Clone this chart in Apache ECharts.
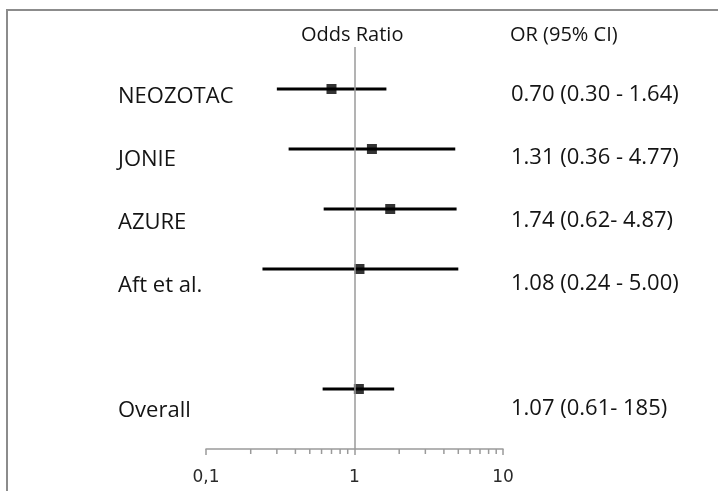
<!DOCTYPE html>
<html>
<head>
<meta charset="utf-8">
<script src="https://cdn.jsdelivr.net/npm/echarts@6/dist/echarts.min.js"></script>
<style>
html, body { margin: 0; padding: 0; background: #fff; }
#chart { width: 718px; height: 491px; }
</style>
</head>
<body>
<div id="chart"></div>
<script>
// forest plot data
const studies = ['NEOZOTAC', 'JONIE', 'AZURE', 'Aft et al.', 'Overall'];
const rows = [1, 2, 3, 4, 6];
const oddsRatio = [0.70, 1.31, 1.74, 1.08, 1.07];
const ciLow = [0.30, 0.36, 0.62, 0.24, 0.61];
const ciHigh = [1.64, 4.77, 4.87, 5.00, 1.85];
const ciText = ['0.70 (0.30 - 1.64)', '1.31 (0.36 - 4.77)', '1.74 (0.62- 4.87)', '1.08 (0.24 - 5.00)', '1.07 (0.61- 185)'];
const tickLabels = ['0,1', '1', '10'];
const minorTicks = [0.2, 0.3, 0.4, 0.5, 0.6, 0.7, 0.8, 0.9, 2, 3, 4, 5, 6, 7, 8, 9];

const textFont = '"Open Sans", sans-serif';
const textColor = '#141414';
const axisGray = '#9a9a9a';

const chart = echarts.init(document.getElementById('chart'));

chart.setOption({
    animation: false,
    backgroundColor: '#fff',
    grid: {
        left: 206,
        right: 215,
        top: 47,
        bottom: 42,
        containLabel: false,
        outerBoundsMode: 'none'
    },
    xAxis: {
        type: 'log',
        logBase: 10,
        min: 0.1,
        max: 10,
        splitLine: { show: false },
        axisLine: { lineStyle: { color: axisGray, width: 1.5 } },
        axisTick: { show: true, length: 6, lineStyle: { color: axisGray, width: 1.5 } },
        axisLabel: {
            margin: 20,
            color: '#2a2a2a',
            fontSize: 17,
            fontFamily: 'DejaVu Sans',
            formatter: v => tickLabels[Math.round(Math.log10(v)) + 1]
        }
    },
    yAxis: [
        { type: 'value', inverse: true, min: 0.3, max: 7, show: false },
        { type: 'value', inverse: true, min: 0.236, max: 6.637, show: false }
    ],
    graphic: [
        {
            type: 'rect',
            shape: { x: 7, y: 10, width: 800, height: 600 },
            style: { fill: 'none', stroke: '#8c8c8c', lineWidth: 2 },
            silent: true
        },
        {
            type: 'text', left: 301, top: 25,
            style: { text: 'Odds Ratio', font: '20px ' + textFont, fill: textColor }
        },
        {
            type: 'text', left: 510, top: 25,
            style: { text: 'OR (95% CI)', font: '20px ' + textFont, fill: textColor }
        }
    ],
    series: [
        {
            // confidence interval lines
            type: 'custom',
            data: rows.map((r, i) => [ciLow[i], ciHigh[i], r]),
            encode: { x: [0, 1], y: 2 },
            renderItem: (params, api) => {
                const p1 = api.coord([api.value(0), api.value(2)]);
                const p2 = api.coord([api.value(1), api.value(2)]);
                return {
                    type: 'line',
                    shape: { x1: p1[0], y1: p1[1], x2: p2[0], y2: p2[1] },
                    style: { stroke: '#000', lineWidth: 3 }
                };
            },
            z: 3
        },
        {
            type: 'scatter',
            data: rows.map((r, i) => [oddsRatio[i], r]),
            symbol: 'rect',
            symbolSize: 10,
            itemStyle: { color: '#000' },
            z: 4,
            markLine: {
                silent: true,
                symbol: 'none',
                label: { show: false },
                lineStyle: { color: axisGray, width: 1.5, type: 'solid' },
                data: [{ xAxis: 1 }]
            }
        },
        {
            // minor log ticks
            type: 'custom',
            data: minorTicks.map(v => [v]),
            encode: { x: 0 },
            renderItem: (params, api) => {
                const p = api.coord([api.value(0), 7]);
                return {
                    type: 'line',
                    shape: { x1: p[0], y1: p[1], x2: p[0], y2: p[1] + 5 },
                    style: { stroke: axisGray, lineWidth: 1.5 }
                };
            },
            silent: true
        },
        {
            // row labels and OR text
            type: 'custom',
            yAxisIndex: 1,
            data: rows.map((r, i) => [r, i]),
            encode: { y: 0 },
            renderItem: (params, api) => {
                const y = api.coord([1, api.value(0)])[1];
                const i = api.value(1);
                return {
                    type: 'group',
                    children: [
                        {
                            type: 'text',
                            style: {
                                x: 118, y: y + 2, text: studies[i],
                                font: '22px ' + textFont, fill: textColor,
                                verticalAlign: 'middle', align: 'left'
                            }
                        },
                        {
                            type: 'text',
                            style: {
                                x: 511, y: y, text: ciText[i],
                                font: '22px ' + textFont, fill: textColor,
                                verticalAlign: 'middle', align: 'left'
                            }
                        }
                    ]
                };
            },
            silent: true
        }
    ]
});
</script>
</body>
</html>
